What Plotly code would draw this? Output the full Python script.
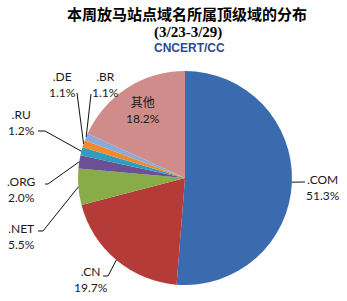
import math
import plotly.graph_objects as go

# ---- data ----
labels = [".COM", ".CN", ".NET", ".ORG", ".RU", ".DE", ".BR", "其他"]
values = [51.3, 19.7, 5.5, 2.0, 1.2, 1.1, 1.1, 18.2]
pct_text = ["51.3%", "19.7%", "5.5%", "2.0%", "1.2%", "1.1%", "1.1%", "18.2%"]
colors = ["#3A6BAE", "#B53B38", "#87AC48", "#6C5095", "#2F9DBE", "#F18A2C", "#8DA9D6", "#D08C8A"]

title1 = "本周放马站点域名所属顶级域的分布"
title2 = "(3/23-3/29)"
logo = "CNCERT/CC"

# ---- layout geometry (pixels) ----
W, H = 347, 301
cx, cy, R = 185, 178, 107

def px(x):
    return x / W

def py(y):
    return 1 - y / H

# label block centre, and leader-line waypoints (None => no leader line)
label_xy = [(323, 187), (91, 279), (21, 236), (21, 189), (21, 122), (62, 84), (106, 84), (143, 111)]
leader_pts = [
    [(305, 182)],
    [(108, 276), (103, 276)],
    [(43, 231), (38, 231)],
    [(48, 184), (45, 184)],
    [(45, 131), (38, 131)],
    [(77, 93)],
    [(91, 94)],
    None,
]

fig = go.Figure(go.Pie(
    labels=labels, values=values, sort=False, direction="clockwise", rotation=0,
    marker=dict(colors=colors, line=dict(width=0)),
    textinfo="none", hoverinfo="label+percent", showlegend=False,
    domain=dict(x=[px(cx - R), px(cx + R)], y=[py(cy + R), py(cy - R)]),
))

total = sum(values)
cum = 0.0
shapes = []
annotations = []
for i, v in enumerate(values):
    mid = (cum + v / 2) / total * 2 * math.pi
    cum += v
    ex = cx + R * math.sin(mid)
    ey = cy - R * math.cos(mid)
    if leader_pts[i]:
        pts = [(ex, ey)] + leader_pts[i]
        path = "M " + " L ".join(f"{px(a):.5f},{py(b):.5f}" for a, b in pts)
        shapes.append(dict(type="path", path=path, xref="paper", yref="paper",
                           line=dict(color="#111111", width=1)))
    lx, ly = label_xy[i]
    annotations.append(dict(
        x=px(lx), y=py(ly), xref="paper", yref="paper", showarrow=False,
        text=f"{labels[i]}<br>{pct_text[i]}", align="center",
        xanchor="center", yanchor="middle",
        font=dict(family="Lato, 'Noto Sans CJK SC', sans-serif", size=12, color="#1a1a1a"),
    ))

annotations += [
    dict(x=px(187), y=py(14), xref="paper", yref="paper", showarrow=False,
         text=f"<b>{title1}</b>", xanchor="center", yanchor="middle",
         font=dict(family="'Noto Sans CJK SC', sans-serif", size=15, color="#000000")),
    dict(x=px(188), y=py(33), xref="paper", yref="paper", showarrow=False,
         text=f"<b>{title2}</b>", xanchor="center", yanchor="middle",
         font=dict(family="'Liberation Serif', serif", size=15, color="#000000")),
    dict(x=px(190), y=py(48), xref="paper", yref="paper", showarrow=False,
         text=f"<b>{logo}</b>", xanchor="center", yanchor="middle",
         font=dict(family="'Liberation Sans', Arial, sans-serif", size=12, color="#2E4A94")),
]

fig.update_layout(
    width=W, height=H, margin=dict(l=0, r=0, t=0, b=0),
    paper_bgcolor="white", plot_bgcolor="white",
    shapes=shapes, annotations=annotations,
)

fig.write_html("out.html")
